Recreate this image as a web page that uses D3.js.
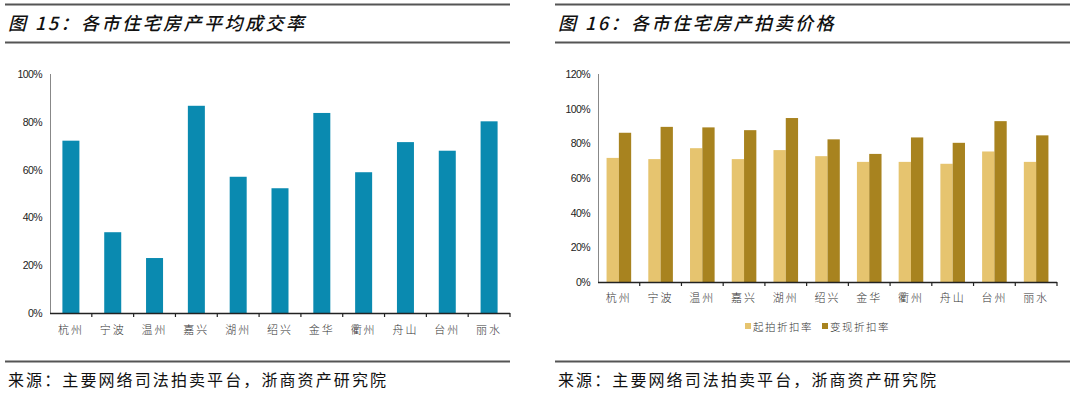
<!DOCTYPE html>
<html><head><meta charset="utf-8">
<script src="https://cdn.jsdelivr.net/npm/d3@7"></script>
<style>
html,body{margin:0;padding:0;background:#fff;}
svg{display:block;}
</style>
</head><body>
<svg id="c" width="1080" height="393"></svg>
<script>
const cities = ["杭州","宁波","温州","嘉兴","湖州","绍兴","金华","衢州","舟山","台州","丽水"];
const dealRate = [72.1, 33.8, 23.0, 86.7, 57.0, 52.2, 83.7, 58.9, 71.5, 67.9, 80.2];
const startDiscount = [71.6, 70.9, 77.2, 70.9, 76.1, 72.6, 69.3, 69.3, 68.2, 75.3, 69.3];
const realizeDiscount = [86.1, 89.5, 89.2, 87.6, 94.6, 82.3, 73.9, 83.4, 80.3, 92.8, 84.6];
const leftTicks = [0, 20, 40, 60, 80, 100];
const rightTicks = [0, 20, 40, 60, 80, 100, 120];
const seriesNames = ["起拍折扣率", "变现折扣率"];
const titles = ["图 15：各市住宅房产平均成交率", "图 16：各市住宅房产拍卖价格"];
const sourceText = "来源：主要网络司法拍卖平台，浙商资产研究院";

const svg = d3.select("#c");
const CJK = "'Noto Sans CJK SC', sans-serif";
const teal = "#0A8AB0", light = "#E6C46F", dark = "#A8831F";

function header(x0, x1, title) {
  svg.append("line").attr("x1", x0).attr("x2", x1).attr("y1", 4.5).attr("y2", 4.5).attr("stroke", "#555").attr("stroke-width", 2);
  svg.append("line").attr("x1", x0).attr("x2", x1).attr("y1", 42.5).attr("y2", 42.5).attr("stroke", "#555").attr("stroke-width", 2);
  svg.append("text").attr("x", x0 + 3).attr("y", 30).attr("font-family", CJK).attr("font-size", 18)
    .attr("font-style", "italic").attr("font-weight", 500).attr("letter-spacing", 2.5).attr("fill", "#111").text(title);
  svg.append("line").attr("x1", x0).attr("x2", x1).attr("y1", 361.5).attr("y2", 361.5).attr("stroke", "#555").attr("stroke-width", 2);
  svg.append("text").attr("x", x0 + 3).attr("y", 386).attr("font-family", CJK).attr("font-size", 16)
    .attr("letter-spacing", 2.1).attr("fill", "#111").text(sourceText);
}
header(5, 510, titles[0]);
header(555, 1070, titles[1]);

function axes(g, x, y, ticks, x0, x1, y0, y1) {
  g.append("line").attr("x1", x0 + 0.5).attr("x2", x0 + 0.5).attr("y1", y1).attr("y2", y0).attr("stroke", "#888").attr("stroke-width", 1);
  g.selectAll(".yl").data(ticks).join("text")
    .attr("x", x0 - 8).attr("y", d => y(d) + 4).attr("text-anchor", "end")
    .attr("font-family", "'Liberation Sans', Arial, sans-serif").attr("font-size", 10.5).attr("letter-spacing", -0.6)
    .attr("fill", "#222").text(d => d + "%");
  g.append("line").attr("x1", x0).attr("x2", x1).attr("y1", y0 + 0.5).attr("y2", y0 + 0.5).attr("stroke", "#222").attr("stroke-width", 1.3);
  const bounds = cities.map(c => x(c)).concat([x1]);
  g.selectAll(".xt").data(bounds.slice(1)).join("line")
    .attr("x1", d => d).attr("x2", d => d).attr("y1", y0).attr("y2", y0 + 4).attr("stroke", "#222").attr("stroke-width", 1.2);
}

// Left chart
{
  const x0 = 50, x1 = 510, y0 = 313, y1 = 74;
  const g = svg.append("g");
  const x = d3.scaleBand().domain(cities).range([x0, x1]).paddingInner(0).paddingOuter(0);
  const y = d3.scaleLinear().domain([0, 100]).range([y0, y1]);
  const bw = 17;
  g.selectAll(".b").data(cities).join("rect")
    .attr("x", c => x(c) + x.bandwidth() / 2 - bw / 2).attr("width", bw)
    .attr("y", (c, i) => y(dealRate[i])).attr("height", (c, i) => y0 - y(dealRate[i]))
    .attr("fill", teal);
  axes(g, x, y, leftTicks, x0, x1, y0, y1);
  g.selectAll(".xl").data(cities).join("text")
    .attr("x", c => x(c) + x.bandwidth() / 2).attr("y", 334).attr("text-anchor", "middle")
    .attr("font-family", CJK).attr("font-size", 11).attr("font-weight", 300).attr("letter-spacing", 2).attr("fill", "#333").text(c => c);
}

// Right chart
{
  const x0 = 598, x1 = 1057, y0 = 282, y1 = 74;
  const g = svg.append("g");
  const x = d3.scaleBand().domain(cities).range([x0, x1]).paddingInner(0).paddingOuter(0);
  const y = d3.scaleLinear().domain([0, 120]).range([y0, y1]);
  const bw = 12.3;
  g.selectAll(".b1").data(cities).join("rect")
    .attr("x", c => x(c) + x.bandwidth() / 2 - bw).attr("width", bw)
    .attr("y", (c, i) => y(startDiscount[i])).attr("height", (c, i) => y0 - y(startDiscount[i]))
    .attr("fill", light);
  g.selectAll(".b2").data(cities).join("rect")
    .attr("x", c => x(c) + x.bandwidth() / 2).attr("width", bw)
    .attr("y", (c, i) => y(realizeDiscount[i])).attr("height", (c, i) => y0 - y(realizeDiscount[i]))
    .attr("fill", dark);
  axes(g, x, y, rightTicks, x0, x1, y0, y1);
  g.selectAll(".xl").data(cities).join("text")
    .attr("x", c => x(c) + x.bandwidth() / 2).attr("y", 302).attr("text-anchor", "middle")
    .attr("font-family", CJK).attr("font-size", 11).attr("font-weight", 300).attr("letter-spacing", 2).attr("fill", "#333").text(c => c);
  const lx = [745, 822];
  const cols = [light, dark];
  seriesNames.forEach((n, i) => {
    g.append("rect").attr("x", lx[i]).attr("y", 323).attr("width", 6).attr("height", 6).attr("fill", cols[i]);
    g.append("text").attr("x", lx[i] + 8).attr("y", 330.5).attr("font-family", CJK).attr("font-size", 10.5)
      .attr("font-weight", 300).attr("letter-spacing", 1.5).attr("fill", "#333").text(n);
  });
}
</script>
</body></html>
